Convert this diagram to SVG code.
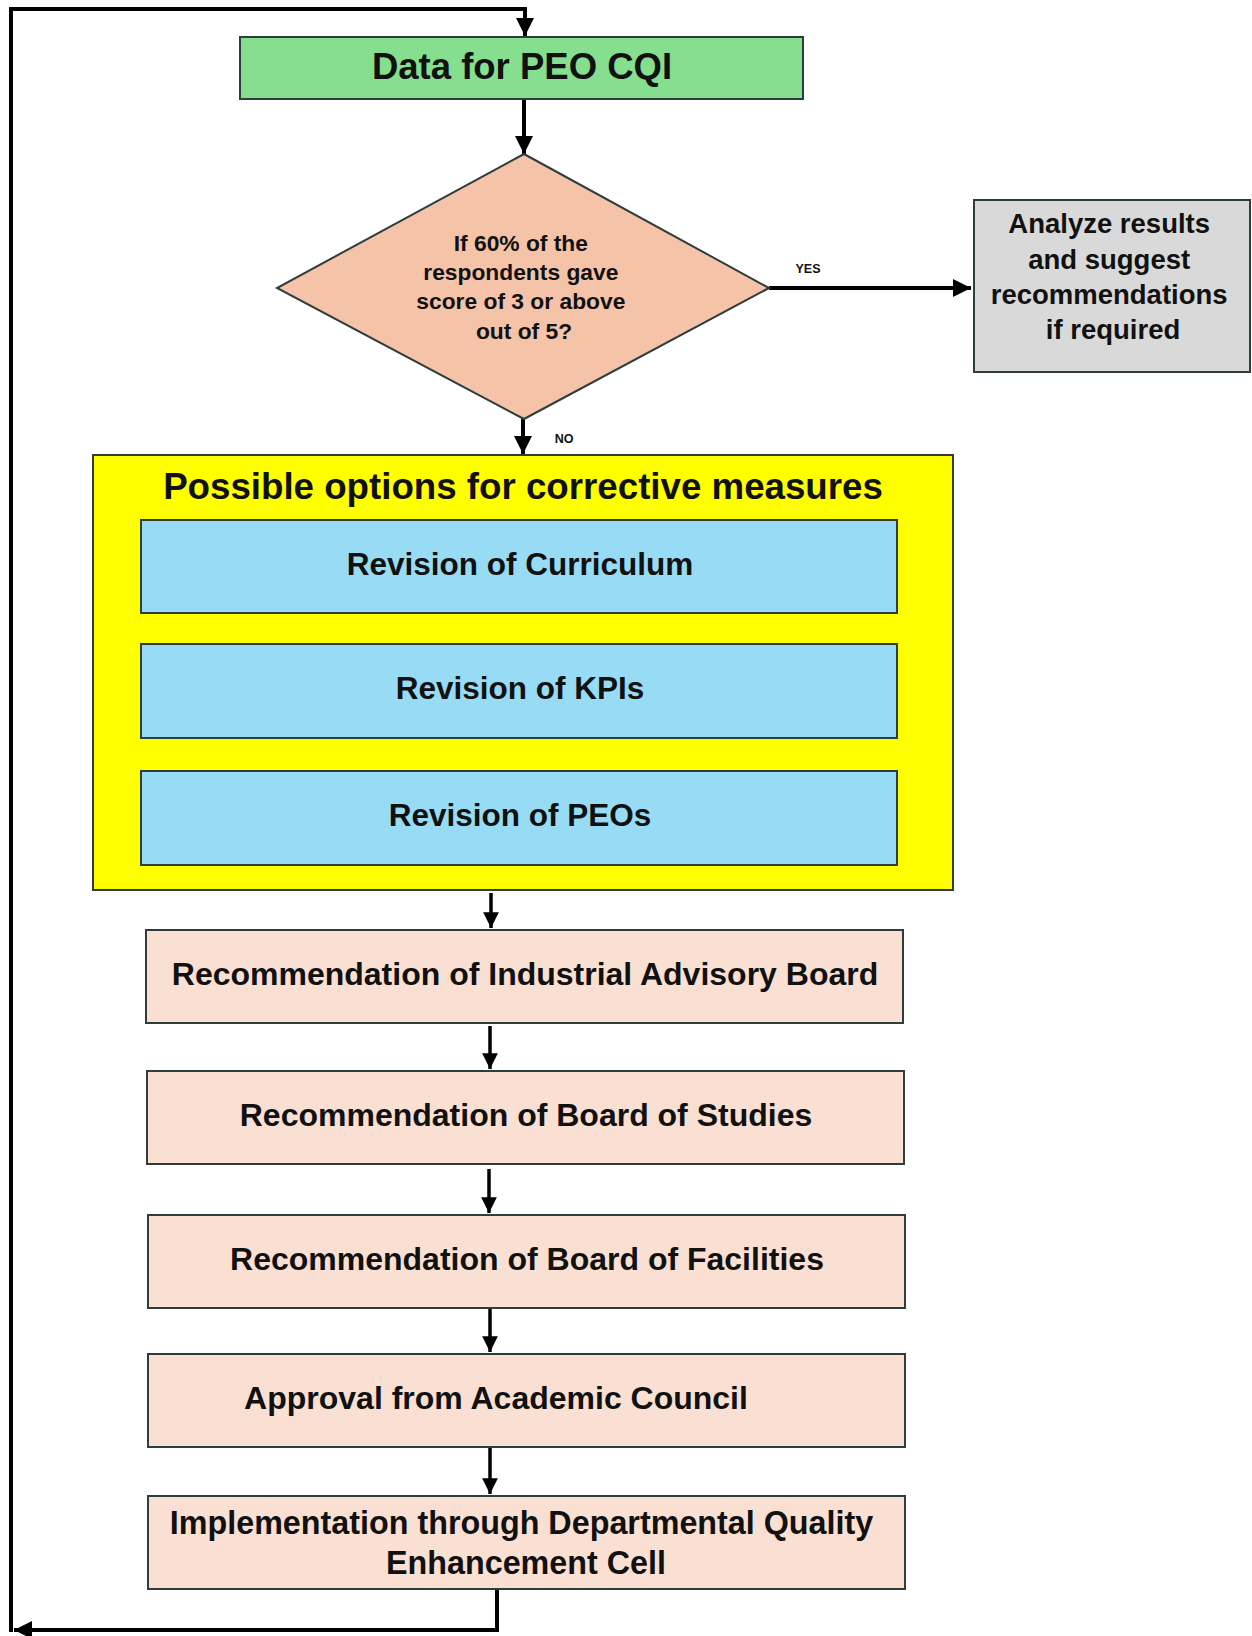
<svg xmlns="http://www.w3.org/2000/svg" width="1252" height="1636" viewBox="0 0 1252 1636">
  <style>
    .box { stroke: #2f3d3d; stroke-width: 2; }
    .t { font-family: "Liberation Sans", Arial, sans-serif; font-weight: bold; fill: #111; text-anchor: middle; }
    .wire { fill: none; stroke: #000; stroke-width: 4; }
    .wire3 { fill: none; stroke: #000; stroke-width: 3.5; }
  </style>
  <defs>
    <marker id="arrow" viewBox="0 0 10 10" refX="10" refY="5" markerWidth="4.5" markerHeight="4.5" orient="auto" markerUnits="strokeWidth">
      <path d="M0,0 L10,5 L0,10 Z" fill="#000"/>
    </marker>
  </defs>

  <rect width="1252" height="1636" fill="#fff"/>

  <!-- connectors -->
  <g id="connectors">
    <path class="wire" d="M497,1588 V1630 H14" marker-end="url(#arrow)"/>
    <path class="wire" d="M11,1632 V9 H525 V36" marker-end="url(#arrow)"/>
    <path class="wire" d="M524,99 V154" marker-end="url(#arrow)"/>
    <path class="wire" d="M769,288 H971" marker-end="url(#arrow)"/>
    <path class="wire" d="M523,419 V454" marker-end="url(#arrow)"/>
    <path class="wire3" d="M491,893 V928" marker-end="url(#arrow)"/>
    <path class="wire3" d="M490,1026 V1069" marker-end="url(#arrow)"/>
    <path class="wire3" d="M489,1169 V1213" marker-end="url(#arrow)"/>
    <path class="wire3" d="M490,1308 V1352" marker-end="url(#arrow)"/>
    <path class="wire3" d="M490,1448 V1494" marker-end="url(#arrow)"/>
    <text class="t" x="808" y="273" font-size="12.5">YES</text>
    <text class="t" x="564" y="443" font-size="12.5">NO</text>
  </g>

  <g id="data-peo-cqi">
    <rect class="box" x="240" y="37" width="563" height="62" fill="#86df8e"/>
    <text class="t" x="522" y="79" font-size="36.5">Data for PEO CQI</text>
  </g>

  <g id="decision">
    <polygon class="box" points="524,154 769,288 524,419 277,288" fill="#f5c3a8"/>
    <text class="t" font-size="22.8">
      <tspan x="524" y="251">If 60% of the</tspan>
      <tspan x="524" y="280">respondents gave</tspan>
      <tspan x="524" y="309">score of 3 or above</tspan>
      <tspan x="524" y="339">out of 5?</tspan>
    </text>
  </g>

  <g id="analyze">
    <rect class="box" x="974" y="200" width="276" height="172" fill="#d9d9d9"/>
    <text class="t" font-size="27.5">
      <tspan x="1113" y="233">Analyze results</tspan>
      <tspan x="1113" y="269">and suggest</tspan>
      <tspan x="1113" y="304">recommendations</tspan>
      <tspan x="1113" y="339">if required</tspan>
    </text>
  </g>

  <g id="corrective-measures">
    <rect class="box" x="93" y="455" width="860" height="435" fill="#ffff00"/>
    <text class="t" x="523" y="499" font-size="36.7">Possible options for corrective measures</text>
  </g>

  <g id="revision-curriculum">
    <rect class="box" x="141" y="520" width="756" height="93" fill="#97dbf5"/>
    <text class="t" x="520" y="575" font-size="31.5">Revision of Curriculum</text>
  </g>

  <g id="revision-kpis">
    <rect class="box" x="141" y="644" width="756" height="94" fill="#97dbf5"/>
    <text class="t" x="520" y="699" font-size="31.5">Revision of KPIs</text>
  </g>

  <g id="revision-peos">
    <rect class="box" x="141" y="771" width="756" height="94" fill="#97dbf5"/>
    <text class="t" x="520" y="826" font-size="31.5">Revision of PEOs</text>
  </g>

  <g id="industrial-advisory-board">
    <rect class="box" x="146" y="930" width="757" height="93" fill="#fae0d2"/>
    <text class="t" x="525" y="985" font-size="32">Recommendation of Industrial Advisory Board</text>
  </g>

  <g id="board-of-studies">
    <rect class="box" x="147" y="1071" width="757" height="93" fill="#fae0d2"/>
    <text class="t" x="526" y="1126" font-size="32">Recommendation of Board of Studies</text>
  </g>

  <g id="board-of-facilities">
    <rect class="box" x="148" y="1215" width="757" height="93" fill="#fae0d2"/>
    <text class="t" x="527" y="1270" font-size="32">Recommendation of Board of Facilities</text>
  </g>

  <g id="academic-council">
    <rect class="box" x="148" y="1354" width="757" height="93" fill="#fae0d2"/>
    <text class="t" x="496" y="1409" font-size="32">Approval from Academic Council</text>
  </g>

  <g id="dqec">
    <rect class="box" x="148" y="1496" width="757" height="93" fill="#fae0d2"/>
    <text class="t" font-size="32.3">
      <tspan x="526" y="1534">Implementation through Departmental Quality</tspan>
      <tspan x="526" y="1574">Enhancement Cell</tspan>
    </text>
  </g>
</svg>
